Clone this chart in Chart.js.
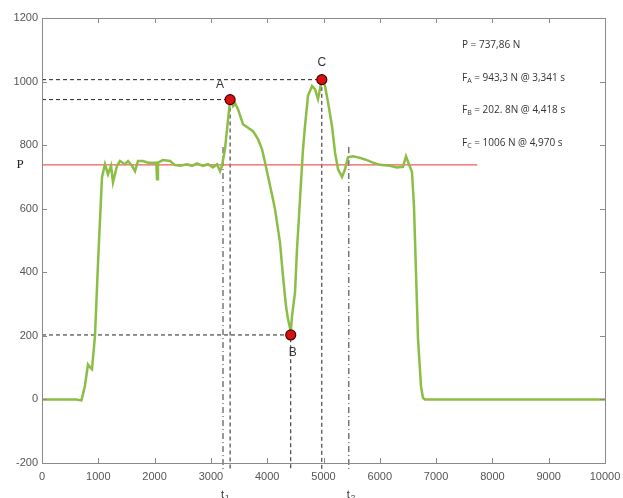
<!DOCTYPE html>
<html>
<head>
<meta charset="utf-8">
<script src="https://cdn.jsdelivr.net/npm/chart.js@4.4.1/dist/chart.umd.min.js"></script>
<style>
  html, body { margin: 0; padding: 0; background: #fff; }
  #wrap { width: 623px; height: 498px; }
</style>
</head>
<body>
<div id="wrap"><canvas id="myChart" width="623" height="498"></canvas></div>
<script>
// force signal (time in ms, force in N)
const timeMs = [0, 300, 600, 700, 760, 817, 860, 888, 941, 1000, 1066, 1119, 1172, 1226, 1261, 1332, 1385, 1474, 1528,
  1599, 1652, 1705, 1794, 1883, 1972, 2030, 2043, 2060, 2149, 2274, 2362, 2451, 2575, 2664, 2753, 2860, 2948, 3037,
  3108, 3162, 3197, 3250, 3341, 3393, 3430, 3481, 3570, 3660, 3748, 3837, 3908, 3961, 4014, 4103, 4139, 4227, 4281,
  4334, 4370, 4405, 4418, 4440, 4494, 4529, 4565, 4600, 4636, 4671, 4725, 4796, 4849, 4902, 4970, 5027, 5080, 5151,
  5204, 5258, 5329, 5382, 5435, 5524, 5648, 5737, 5879, 6004, 6181, 6305, 6412, 6465, 6518, 6572, 6607, 6643, 6679,
  6732, 6767, 6803, 8000, 10000];
const forceN = [0, 0, 0, -3, 40, 110, 100, 95, 200, 450, 700, 740, 708, 735, 683, 735, 750, 740, 750,
  735, 718, 750, 750, 745, 745, 745, 693, 745, 753, 750, 737, 735, 740, 735, 743, 735, 740, 730,
  740, 718, 735, 787, 943, 923, 932, 913, 866, 855, 844, 819, 787, 746, 702, 630, 598, 494, 387,
  293, 252, 225, 210, 261, 337, 472, 577, 683, 787, 860, 955, 986, 976, 945, 1006, 986, 935, 860,
  778, 724, 700, 724, 762, 765, 760, 755, 745, 738, 735, 730, 732, 765, 740, 715, 608, 400, 189,
  41, 5, 0, 0, 0];

// marked points and reference values
const peakNames = ['A', 'B', 'C'];
const peakTimes = [3341, 4418, 4970];
const peakForces = [943.3, 202.8, 1006];
const weightP = 737.86;
const weightEnd = 7730;
const tMarks = [3215, 5450];
const tMarkTop = 794;
const tNames = ['1', '2'];
const infoLines = [
  ['P = 737,86 N'],
  ['F', 'A', ' = 943,3 N @ 3,341 s'],
  ['F', 'B', ' = 202. 8N @ 4,418 s'],
  ['F', 'C', ' = 1006 N @ 4,970 s']
];

const yBottom = -222; // guide lines run a little below the axis

const signal = timeMs.map((t, i) => ({ x: t, y: forceN[i] }));

const guides = [];
for (let i = 0; i < peakTimes.length; i++) {
  guides.push({
    type: 'line', data: [{ x: 0, y: peakForces[i] }, { x: peakTimes[i], y: peakForces[i] }, { x: peakTimes[i], y: yBottom }],
    borderColor: '#222', borderWidth: 1, borderDash: [4, 3], pointRadius: 0, fill: false, clip: false, order: 3
  });
}
for (let i = 0; i < tMarks.length; i++) {
  guides.push({
    type: 'line', data: [{ x: tMarks[i], y: tMarkTop }, { x: tMarks[i], y: yBottom }],
    borderColor: '#333', borderWidth: 1, borderDash: [6, 3, 1, 3], pointRadius: 0, fill: false, clip: false, order: 3
  });
}

const tickFont = { family: 'Liberation Sans', size: 11 };

const framePlugin = {
  id: 'frame',
  afterDraw(chart) {
    const ctx = chart.ctx;
    const a = chart.chartArea;
    const xs = chart.scales.x, ys = chart.scales.y;
    ctx.save();
    ctx.strokeStyle = '#8a8a8a';
    ctx.lineWidth = 1;
    ctx.strokeRect(a.left + 0.5, a.top + 0.5, a.right - a.left, a.bottom - a.top);
    ctx.beginPath();
    xs.ticks.forEach(tk => {
      const px = Math.round(xs.getPixelForValue(tk.value)) + 0.5;
      ctx.moveTo(px, a.bottom); ctx.lineTo(px, a.bottom - 5);
      ctx.moveTo(px, a.top); ctx.lineTo(px, a.top + 5);
    });
    ys.ticks.forEach(tk => {
      const py = Math.round(ys.getPixelForValue(tk.value)) + 0.5;
      ctx.moveTo(a.left, py); ctx.lineTo(a.left + 5, py);
      ctx.moveTo(a.right, py); ctx.lineTo(a.right - 5, py);
    });
    ctx.stroke();

    // labels of the marked points
    ctx.fillStyle = '#333';
    ctx.font = '12px "Liberation Sans"';
    ctx.textAlign = 'center';
    ctx.textBaseline = 'middle';
    const off = [[-10, -15], [2, 18], [0, -17]];
    for (let i = 0; i < peakNames.length; i++) {
      ctx.fillText(peakNames[i], xs.getPixelForValue(peakTimes[i]) + off[i][0], ys.getPixelForValue(peakForces[i]) + off[i][1]);
    }
    // P label
    ctx.font = '13px "Liberation Serif"';
    ctx.fillStyle = '#222';
    ctx.fillText('P', 20, ys.getPixelForValue(weightP));

    // t1 / t2
    ctx.fillStyle = '#333';
    ctx.textAlign = 'left';
    ctx.textBaseline = 'alphabetic';
    for (let i = 0; i < tMarks.length; i++) {
      const px = xs.getPixelForValue(tMarks[i]) - 2;
      ctx.font = '11px "Liberation Sans"';
      ctx.fillText('t', px, 498);
      ctx.font = '8px "Liberation Sans"';
      ctx.fillText(tNames[i], px + 4, 500);
    }

    // info block
    ctx.fillStyle = '#333';
    infoLines.forEach((ln, k) => {
      let x = 462;
      const yy = 48 + k * 32.5;
      ctx.font = '10px "Open Sans"';
      ctx.fillText(ln[0], x, yy);
      x += ctx.measureText(ln[0]).width;
      if (ln.length > 2) {
        ctx.font = '7px "Open Sans"';
        ctx.fillText(ln[1], x, yy + 2);
        x += ctx.measureText(ln[1]).width;
        ctx.font = '10px "Open Sans"';
        ctx.fillText(ln[2], x, yy);
      }
    });
    ctx.restore();
  }
};

const ctx2 = document.getElementById('myChart');
const chart = new Chart(ctx2, {
  type: 'line',
  data: {
    datasets: [
      {
        data: peakTimes.map((t, i) => ({ x: t, y: peakForces[i] })),
        showLine: false, pointRadius: 5, pointBackgroundColor: '#d81010', pointBorderColor: '#4a0000',
        pointBorderWidth: 1.2, order: 0
      },
      {
        data: signal, borderColor: '#8cbd45', borderWidth: 2.5, pointRadius: 0, tension: 0,
        fill: false, order: 1
      },
      {
        data: [{ x: 0, y: weightP }, { x: weightEnd, y: weightP }],
        borderColor: '#f25a5a', borderWidth: 1.3, pointRadius: 0, fill: false, order: 2
      },
      ...guides
    ]
  },
  options: {
    responsive: false,
    animation: false,
    events: [],
    layout: { padding: { top: 18, right: 18, left: 0, bottom: 0 } },
    plugins: { legend: { display: false }, tooltip: { enabled: false } },
    scales: {
      x: {
        type: 'linear', min: 0, max: 10000,
        grid: { display: false, drawTicks: false },
        border: { display: false },
        ticks: { stepSize: 1000, autoSkip: false, maxRotation: 0, color: '#555', font: tickFont, padding: 7,
          callback: v => String(v) },
        afterFit(s) { s.height = 35; s.paddingLeft = 0; s.paddingRight = 0; }
      },
      y: {
        min: -200, max: 1200,
        grid: { display: false, drawTicks: false },
        border: { display: false },
        ticks: { stepSize: 200, color: '#555', font: tickFont, padding: 4, callback: v => String(v) },
        afterFit(s) { s.width = 42; s.paddingTop = 0; s.paddingBottom = 0; }
      }
    }
  },
  plugins: [framePlugin]
});
</script>
</body>
</html>
